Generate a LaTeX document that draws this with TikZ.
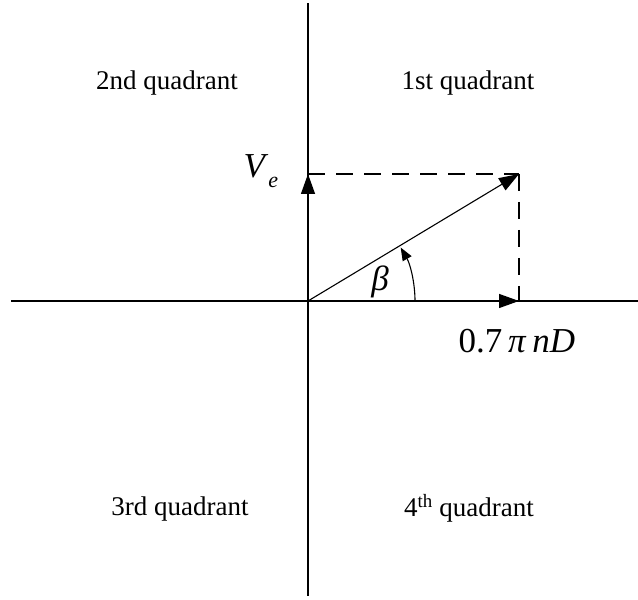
\documentclass[tikz,border=0pt]{standalone}
\usepackage{fontspec}
\setmainfont{Liberation Serif}
\usetikzlibrary{arrows.meta}

\begin{document}
\begin{tikzpicture}[x=1pt,y=1pt,line width=1.3pt,
  vec/.style={-{Triangle[length=20pt,width=14pt]}},
  turn/.style={-{Triangle[length=13pt,width=10pt]}},
  guide/.style={dash pattern=on 17pt off 11pt},
  quad/.style={font=\fontsize{27}{30}\selectfont, anchor=base},
  sym/.style={font=\fontsize{35}{38}\selectfont, inner sep=0pt}]
\useasboundingbox (0,0) rectangle (638,600);
% Points
\coordinate (O) at (308,299);
\coordinate (top) at (308,597);
\coordinate (bottom) at (308,4);
\coordinate (left) at (11,299);
\coordinate (right) at (638,299);
\coordinate (ve) at (308,426);
\coordinate (ax) at (519,299);
\coordinate (tip) at (519,426);

% Axes
\draw (bottom) -- (top);
\draw (left) -- (right);

% Dashed guides
\draw[guide] (ve) -- (tip);
\draw[guide] (tip) -- (ax);

% Arrows
\draw[vec] (O) -- (ve);
\draw[vec] (O) -- (ax);
\draw[vec, line width=1.1pt] (O) -- (tip);
\draw[turn, line width=1.1pt] ([shift={(0:107)}]O) arc[start angle=0, end angle=30, radius=107];

% Labels
\node[quad] (q1) at (468,510) {1st quadrant};
\node[quad] (q2) at (167,510) {2nd quadrant};
\node[quad] (q3) at (180,84) {3rd quadrant};
\node[quad] (q4) at (469,83) {4\textsuperscript{th} quadrant};
\node[sym, anchor=base west] (vlab) at (243,422) {\textit{V}\raisebox{-10pt}{\fontsize{22}{22}\selectfont\textit{e}}};
\node[sym] (beta) at (380,318) {\textit{β}};
\node[sym, anchor=base west] (speed) at (458,247) {0.7\,\textit{π}\,\textit{n}\textit{D}};
\end{tikzpicture}
\end{document}
